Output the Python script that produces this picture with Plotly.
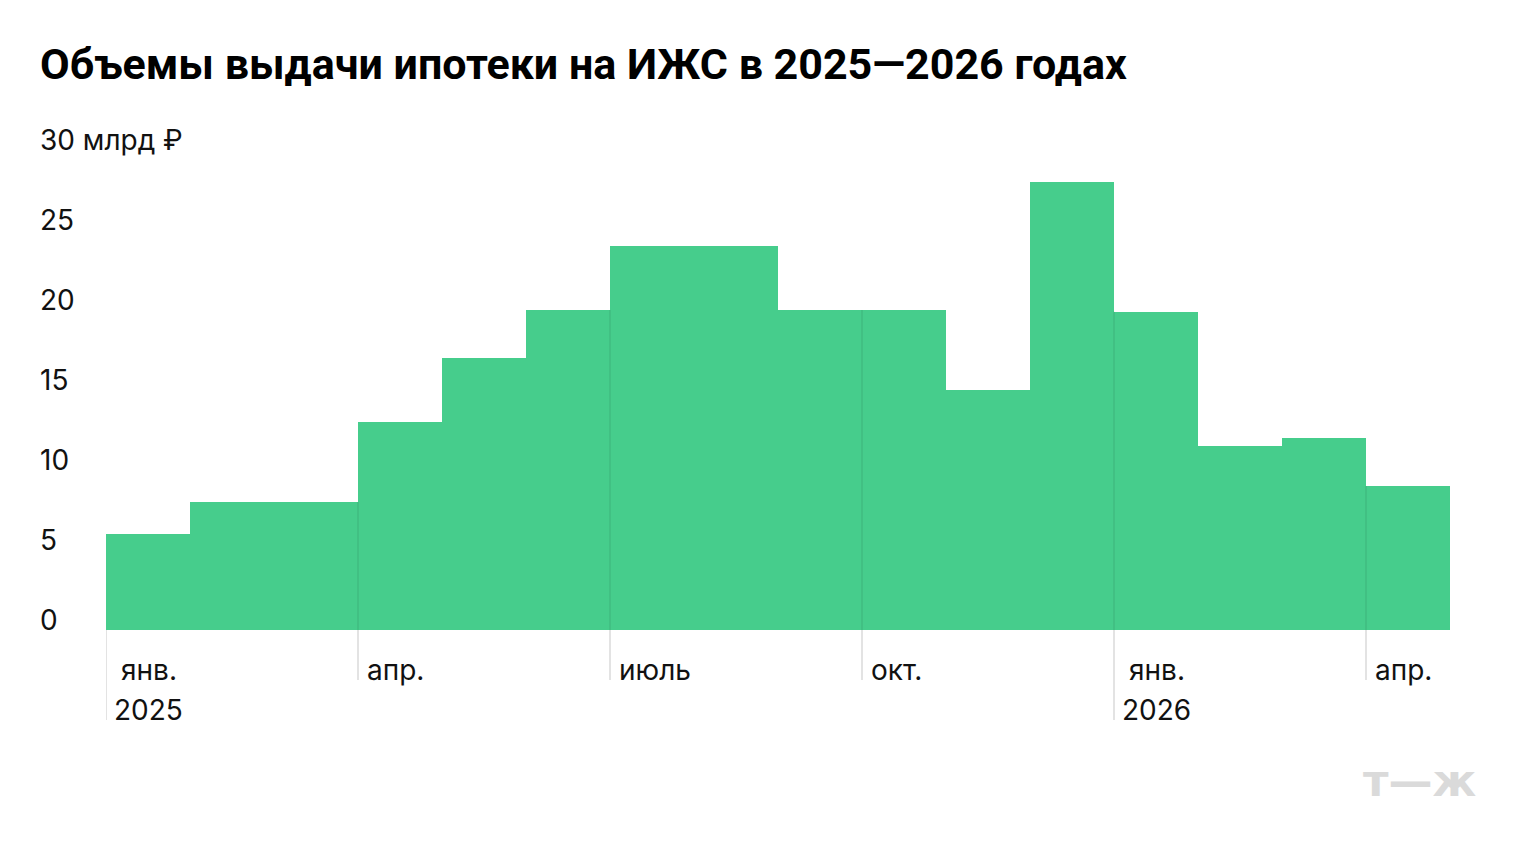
import plotly.graph_objects as go

months = ["2025-01", "2025-02", "2025-03", "2025-04", "2025-05", "2025-06",
          "2025-07", "2025-08", "2025-09", "2025-10", "2025-11", "2025-12",
          "2026-01", "2026-02", "2026-03", "2026-04"]
values = [6.0, 8.0, 8.0, 13.0, 17.0, 20.0, 24.0, 24.0, 20.0, 20.0, 15.0, 28.0,
          19.9, 11.5, 12.0, 9.0]
quarter_idx = [0, 3, 6, 9, 12, 15]
quarter_labels = ["янв.", "апр.", "июль", "окт.", "янв.", "апр."]
year_idx = [0, 12]
year_labels = ["2025", "2026"]
y_ticks = [0, 5, 10, 15, 20, 25, 30]
y_tick_labels = ["0", "5", "10", "15", "20", "25", "30 млрд ₽"]

GREEN = "#46CD8C"
LABEL_FONT = dict(family="Inter, Roboto, sans-serif", size=28, color="#111111")

# figure is drawn at an 8px page offset; geometry in figure pixels
L, T, PW, PH = 98, 142, 1344, 480
W, H = 1520, 850

fig = go.Figure()
fig.add_trace(go.Bar(x=list(range(len(months))), y=values, width=1.0,
                     marker=dict(color=GREEN, line=dict(width=0)),
                     hoverinfo="skip"))

shapes = []
annotations = []
n = len(months)
for qi, lab in zip(quarter_idx, quarter_labels):
    xb = qi - 0.5
    h = min(values[qi - 1], values[qi]) if qi > 0 else 0
    if h > 0:
        shapes.append(dict(type="line", xref="x", yref="y", x0=xb, x1=xb, y0=0, y1=h,
                           line=dict(color="rgba(0,0,0,0.06)", width=2), layer="above"))
    bottom = -90 / PH if qi in year_idx else -50 / PH
    shapes.append(dict(type="line", xref="x", yref="paper", x0=xb, x1=xb, y0=0, y1=bottom,
                       line=dict(color="#E3E3E3", width=2), layer="below"))
    shift = 14 if lab == "янв." else 8
    annotations.append(dict(x=xb, y=-40 / PH, xref="x", yref="paper", text=lab,
                            showarrow=False, xanchor="left", yanchor="middle",
                            xshift=shift - 1, font=LABEL_FONT))
for yi, ylab in zip(year_idx, year_labels):
    annotations.append(dict(x=yi - 0.5, y=-80 / PH, xref="x", yref="paper", text=ylab,
                            showarrow=False, xanchor="left", yanchor="middle",
                            xshift=6, font=LABEL_FONT))

for yv, ylab in zip(y_ticks, y_tick_labels):
    annotations.append(dict(x=0, y=yv, xref="paper", yref="y", text=ylab,
                            showarrow=False, xanchor="left", yanchor="middle",
                            xshift=-(L - 32) - 2, yshift=10, font=LABEL_FONT))

annotations.append(dict(x=(1471 - L) / PW, y=(T + PH - 772) / PH, xref="paper", yref="paper",
                        xanchor="right", yanchor="middle", showarrow=False,
                        text="<b>т—ж</b>",
                        font=dict(family="DejaVu Sans, sans-serif", size=44, color="#DADADA")))

fig.update_layout(
    width=W, height=H,
    margin=dict(l=L, r=W - L - PW, t=T, b=H - T - PH),
    paper_bgcolor="white", plot_bgcolor="white",
    bargap=0, showlegend=False,
    title=dict(text="<b>Объемы выдачи ипотеки на ИЖС в 2025—2026 годах</b>",
               x=32 / W, xanchor="left", y=1 - 56 / H, yanchor="middle",
               font=dict(family="Roboto, sans-serif", size=43, color="#000000")),
    xaxis=dict(range=[-0.5, n - 0.5], showticklabels=False, showgrid=False,
               zeroline=False, showline=False, ticks="", fixedrange=True),
    yaxis=dict(range=[0, 30], showticklabels=False, showgrid=False,
               zeroline=False, showline=False, ticks="", fixedrange=True),
    shapes=shapes,
    annotations=annotations,
)

fig.write_html("out.html", config={"displayModeBar": False})
